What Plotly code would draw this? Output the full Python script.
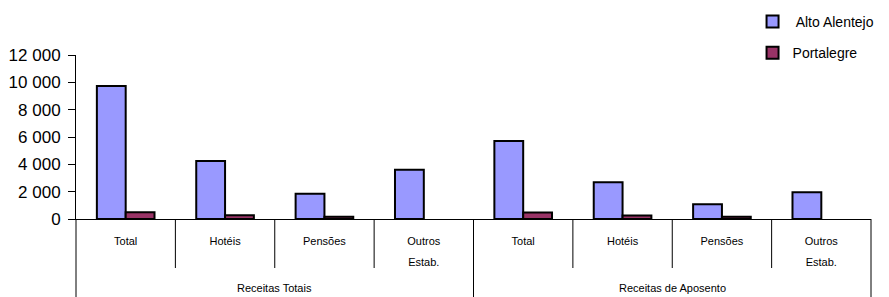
import plotly.graph_objects as go

groups = ["Receitas Totais", "Receitas de Aposento"]
categories = ["Total", "Hotéis", "Pensões", "Outros<br>Estab."] * 2
alto_alentejo = [9730, 4250, 1850, 3610, 5700, 2690, 1080, 1960]
portalegre = [490, 270, 170, None, 480, 260, 170, None]
y_tickvals = [0, 2000, 4000, 6000, 8000, 10000, 12000]
y_ticktext = ["0", "2 000", "4 000", "6 000", "8 000", "10 000", "12 000"]

n = len(categories)
xpos = list(range(n))
per_group = n // len(groups)

fig = go.Figure()
fig.add_trace(go.Bar(
    x=xpos, y=alto_alentejo, name=" Alto Alentejo",
    marker=dict(color="#9999FF", line=dict(color="black", width=2)),
    legendgroup="a",
))
fig.add_trace(go.Bar(
    x=xpos, y=portalegre, name="Portalegre",
    marker=dict(color="#993366", line=dict(color="black", width=2)),
    legendgroup="b",
))

FONT = "Liberation Sans, Arial, sans-serif"
PLOT_H = 164
shapes = []
for i in range(n + 1):
    outer = (i % per_group == 0)
    y1 = -80 / PLOT_H if outer else -49 / PLOT_H
    shapes.append(dict(type="line", xref="paper", yref="paper",
                       x0=i / n, x1=i / n, y0=0, y1=y1,
                       line=dict(color="black", width=1)))

annotations = []
for g, name in enumerate(groups):
    annotations.append(dict(
        text=name, xref="paper", yref="paper",
        x=(g + 0.5) / len(groups), y=-69 / PLOT_H,
        xanchor="center", yanchor="middle", showarrow=False,
        font=dict(size=11, family=FONT, color="black"),
    ))

fig.update_layout(
    width=881, height=289,
    margin=dict(l=68, r=18, t=47, b=78, autoexpand=False),
    paper_bgcolor="white", plot_bgcolor="white",
    barmode="group", bargap=0.42, bargroupgap=0,
    font=dict(family=FONT, color="black"),
    showlegend=True,
    legend=dict(
        x=0.851, xanchor="left", y=1.299, yanchor="top",
        font=dict(size=14), traceorder="grouped", tracegroupgap=10,
        bgcolor="rgba(0,0,0,0)",
    ),
    shapes=shapes,
    annotations=annotations,
)
fig.update_yaxes(
    range=[0, 12000], tickvals=y_tickvals, ticktext=y_ticktext,
    showgrid=False, zeroline=False, showline=True, linecolor="black", linewidth=1,
    ticks="outside", ticklen=7, tickcolor="black", ticklabelstandoff=4,
    tickfont=dict(size=17), automargin=False,
)
fig.update_xaxes(
    range=[-0.5, n - 0.5],
    tickvals=xpos,
    ticktext=["<span style='font-size:11px'>" + c.replace("<br>", "</span><br><span style='font-size:11px'>") + "</span>" for c in categories],
    showgrid=False, zeroline=False, showline=True, linecolor="black", linewidth=1,
    ticks="", tickfont=dict(size=16), ticklabelstandoff=6, automargin=False,
)
fig.write_html("out.html")
